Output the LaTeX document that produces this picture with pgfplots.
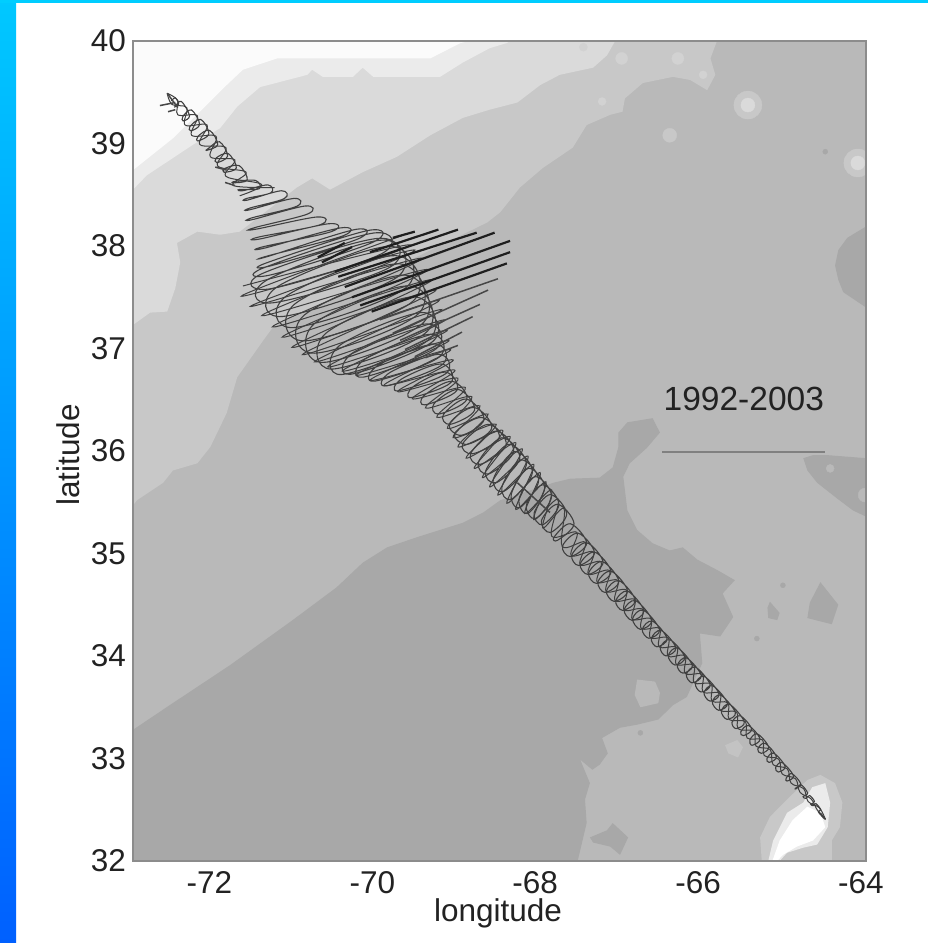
\documentclass[border=0pt]{standalone}
\usepackage{pgfplots}
\pgfplotsset{compat=1.18}
\usepackage{fontspec}
\setmainfont{Liberation Sans}
\definecolor{base}{HTML}{B9B9B9}
\definecolor{cdark}{HTML}{A8A8A8}
\definecolor{cc}{HTML}{C8C8C8}
\definecolor{cd}{HTML}{DADADA}
\definecolor{ce}{HTML}{EBEBEB}
\definecolor{cf}{HTML}{FBFBFB}
\definecolor{cs}{HTML}{D2D2D2}
\definecolor{ink}{HTML}{222222}
\definecolor{bartop}{HTML}{00C8FF}
\definecolor{barbot}{HTML}{0060FF}
\definecolor{strip}{HTML}{00CDFF}
\begin{document}
\begin{tikzpicture}[x=1pt,y=1pt]
\useasboundingbox (0,0) rectangle (928,943);
\fill[white] (0,0) rectangle (928,943);
\shade[top color=bartop,bottom color=barbot] (0,0) rectangle (16,943);
\fill[strip] (0,940) rectangle (928,943);
\begin{axis}[
  scale only axis, width=733pt, height=820pt, at={(133pt,82pt)},
  xmin=-73, xmax=-64, ymin=32, ymax=40,
  axis background/.style={fill=base},
  axis on top,
  axis line style={draw=black!45,line width=1.5pt},
  major tick length=0pt,
  xtick={-72,-70,-68,-66,-64}, xticklabels={-72,-70,-68,-66,-64},
  ytick={32,33,34,35,36,37,38,39,40}, yticklabels={32,33,34,35,36,37,38,39,40},
  tick label style={font=\fontsize{31.5}{36}\selectfont,text=ink,inner sep=0pt},
  xticklabel style={anchor=center,yshift=-22pt,xshift=-5pt},
  yticklabel style={anchor=east,xshift=-7pt},
  xlabel={longitude}, ylabel={latitude},
  label style={font=\fontsize{31.5}{36}\selectfont,text=ink},
  xlabel style={at={(axis description cs:0.498,-0.0635)},anchor=center,inner sep=0pt},
  ylabel style={at={(axis description cs:-0.0887,0.495)},anchor=center,inner sep=0pt},
  clip marker paths=true,
]
% depth shading
\addplot[fill=cc,draw=none] coordinates {(-73,40)(-65.83,40)(-65.91,39.83)(-65.85,39.67)(-65.95,39.52)(-66.16,39.62)(-66.37,39.65)(-66.74,39.59)(-66.96,39.44)(-66.99,39.31)(-67.14,39.28)(-67.43,39.18)(-67.60,38.96)(-67.97,38.76)(-68.25,38.57)(-68.49,38.33)(-68.65,38.23)(-71.28,37.21)(-71.40,37.08)(-71.72,36.72)(-71.85,36.37)(-72.05,36.04)(-72.21,35.88)(-72.51,35.81)(-72.63,35.69)(-72.95,35.52)(-73,35.47)} --cycle;
\addplot[fill=cd,draw=none] coordinates {(-73,40)(-67.08,40)(-67.18,39.86)(-67.35,39.74)(-67.76,39.67)(-68.00,39.57)(-68.28,39.40)(-68.62,39.33)(-68.95,39.25)(-69.35,39.08)(-69.76,38.87)(-70.18,38.72)(-70.58,38.55)(-70.80,38.66)(-70.99,38.57)(-71.69,38.14)(-71.93,38.11)(-72.21,38.14)(-72.46,38.03)(-72.42,37.84)(-72.48,37.59)(-72.58,37.36)(-72.79,37.35)(-73,37.23)} --cycle;
\addplot[fill=ce,draw=none] coordinates {(-73,40)(-68.37,40)(-68.41,39.98)(-68.62,39.93)(-68.95,39.79)(-69.23,39.65)(-70.05,39.65)(-70.18,39.74)(-70.30,39.65)(-70.67,39.65)(-70.80,39.72)(-70.86,39.67)(-71.44,39.55)(-71.72,39.36)(-71.93,39.15)(-72.26,38.99)(-72.83,38.69)(-73,38.55)} --cycle;
\addplot[fill=cf,draw=none] coordinates {(-73,40)(-68.86,40)(-68.98,39.98)(-69.35,39.83)(-71.23,39.83)(-71.65,39.72)(-71.85,39.57)(-72.51,39.05)(-73,38.74)} --cycle;
\addplot[fill=cdark,draw=none] coordinates {(-73,32)(-67.54,32)(-67.43,32.37)(-67.45,32.60)(-67.39,32.76)(-67.51,32.99)(-67.36,32.89)(-67.27,32.94)(-67.17,33.05)(-67.24,33.20)(-67.02,33.30)(-66.81,33.33)(-66.55,33.38)(-66.37,33.52)(-66.20,33.60)(-66.01,33.93)(-66.04,34.22)(-65.79,34.19)(-65.63,34.38)(-65.76,34.61)(-65.61,34.74)(-65.83,34.84)(-66.07,34.94)(-66.25,35.06)(-66.41,35.03)(-66.62,35.10)(-66.81,35.23)(-66.93,35.42)(-66.98,35.75)(-66.90,35.88)(-66.69,36.03)(-66.53,36.18)(-66.62,36.32)(-66.93,36.28)(-67.04,36.18)(-67.04,36.04)(-67.11,35.84)(-67.27,35.74)(-67.63,35.73)(-67.84,35.69)(-68.49,35.52)(-68.70,35.40)(-68.95,35.30)(-69.51,35.16)(-69.88,35.06)(-70.18,34.91)(-70.50,34.67)(-71.04,34.35)(-71.81,33.91)(-72.55,33.52)(-73,33.28)} --cycle;
\addplot[fill=base,draw=none] coordinates {(-66.81,33.77)(-66.59,33.75)(-66.53,33.64)(-66.55,33.54)(-66.77,33.50)(-66.84,33.62)} --cycle;
\addplot[fill=cdark,draw=none] coordinates {(-67.39,32.23)(-67.18,32.30)(-67.11,32.37)(-66.92,32.23)(-67.02,32.06)(-67.14,32.14)(-67.35,32.18)} --cycle;
\addplot[fill=cdark,draw=none] coordinates {(-64,38.19)(-64.23,38.08)(-64.34,37.96)(-64.38,37.81)(-64.34,37.67)(-64.28,37.55)(-64,37.40)} --cycle;
\addplot[fill=cdark,draw=none] coordinates {(-64.77,35.93)(-64.65,35.96)(-64.48,35.96)(-64,35.93)(-64,35.36)(-64.16,35.42)(-64.36,35.54)(-64.60,35.69)(-64.72,35.81)} --cycle;
\addplot[fill=cdark,draw=none] coordinates {(-64.56,34.72)(-64.34,34.50)(-64.42,34.31)(-64.72,34.37)(-64.69,34.52)} --cycle;
\addplot[fill=cdark,draw=none] coordinates {(-65.18,34.53)(-65.06,34.42)(-65.09,34.35)(-65.20,34.37)(-65.21,34.47)} --cycle;
\addplot[fill=cc!70!base,draw=none] coordinates {(-65.73,33.13)(-65.58,33.18)(-65.51,33.11)(-65.57,33.01)(-65.69,33.05)} --cycle;
\addplot[fill=cc,draw=none] coordinates {(-65.28,32)(-65.30,32.23)(-65.18,32.43)(-64.97,32.60)(-64.72,32.79)(-64.56,32.84)(-64.38,32.76)(-64.29,32.57)(-64.32,32.33)(-64.42,32.20)(-64.42,32)} --cycle;
\addplot[fill=ce,draw=none] coordinates {(-65.20,32)(-65.14,32.20)(-64.97,32.47)(-64.77,32.57)(-64.66,32.72)(-64.50,32.76)(-64.44,32.57)(-64.47,32.33)(-64.60,32.16)(-64.77,32.13)(-64.97,32.08)(-65.06,32)} --cycle;
\addplot[fill=white,draw=none] coordinates {(-65.15,32)(-65.06,32.20)(-64.90,32.40)(-64.72,32.53)(-64.56,32.47)(-64.50,32.33)(-64.65,32.20)(-64.85,32.14)(-65.02,32.06)(-65.09,32)} --cycle;
% seamount spots
\addplot[only marks,mark=*,mark size=14pt,color=cc] coordinates {(-65.45,39.375)(-64.10,38.81)};
\addplot[only marks,mark=*,mark size=7pt,color=cd] coordinates {(-65.45,39.375)(-64.10,38.81)};
\addplot[only marks,mark=*,mark size=7pt,color=cc] coordinates {(-66.41,39.08)};
\addplot[only marks,mark=*,mark size=6pt,color=cs] coordinates {(-67.00,39.83)(-66.31,39.83)};
\addplot[only marks,mark=*,mark size=4pt,color=cs] coordinates {(-66.00,39.67)(-67.47,39.94)(-67.24,39.41)};
\addplot[only marks,mark=*,mark size=2.5pt,color=cdark] coordinates {(-65.02,34.69)(-65.34,34.17)(-66.77,33.25)(-64.50,38.92)};
\addplot[only marks,mark=*,mark size=4pt,color=base] coordinates {(-64.44,35.83)};
\addplot[only marks,mark=*,mark size=7pt,color=base] coordinates {(-64.01,35.57)};
% the looping track
\addplot[smooth,tension=0.6,draw=black!75,line width=1.1pt] coordinates {
(-72.53,39.416)(-72.48,39.444)(-72.44,39.384)(-72.49,39.356)
(-72.484,39.36)(-72.406,39.41)(-72.306,39.27)(-72.384,39.22)
(-72.388,39.263)(-72.282,39.327)(-72.182,39.187)(-72.288,39.123)
(-72.302,39.165)(-72.168,39.235)(-72.068,39.095)(-72.202,39.025)
(-72.20,39.072)(-72.06,39.128)(-71.96,38.988)(-72.10,38.932)
(-72.072,38.953)(-71.938,39.017)(-71.838,38.877)(-71.972,38.813)
(-71.979,38.859)(-71.831,38.901)(-71.731,38.761)(-71.879,38.719)
(-71.873,38.756)(-71.697,38.784)(-71.597,38.644)(-71.773,38.616)
(-71.74,38.631)(-71.494,38.639)(-71.45,38.559)(-71.696,38.551)
(-71.645,38.54)(-71.345,38.596)(-71.305,38.52)(-71.605,38.464)
(-71.599,38.447)(-71.179,38.539)(-71.141,38.463)(-71.561,38.371)
(-71.572,38.352)(-71.026,38.464)(-70.988,38.388)(-71.534,38.276)
(-71.54,38.256)(-70.888,38.39)(-70.85,38.314)(-71.502,38.18)
(-71.497,38.163)(-70.741,38.283)(-70.703,38.207)(-71.459,38.087)
(-71.439,38.069)(-70.599,38.217)(-70.561,38.141)(-71.401,37.993)
(-71.381,37.98)(-70.457,38.176)(-70.419,38.10)(-71.343,37.904)
(-71.336,37.90)(-70.278,38.16)(-70.234,38.07)(-71.292,37.81)
(-71.362,37.835)(-70.116,38.151)(-70.058,38.035)(-71.304,37.719)
(-71.408,37.783)(-70.042,38.127)(-69.942,37.927)(-71.308,37.583)
(-71.43,37.725)(-69.98,38.075)(-69.84,37.795)(-71.29,37.445)
(-71.347,37.672)(-69.933,38.058)(-69.753,37.698)(-71.167,37.312)
(-71.225,37.604)(-69.845,37.996)(-69.645,37.596)(-71.025,37.204)
(-71.114,37.514)(-69.776,37.906)(-69.556,37.466)(-70.894,37.074)
(-71.014,37.434)(-69.726,37.826)(-69.486,37.346)(-70.774,36.954)
(-70.90,37.324)(-69.66,37.716)(-69.43,37.256)(-70.67,36.864)
(-70.778,37.239)(-69.602,37.611)(-69.382,37.171)(-70.558,36.799)
(-70.636,37.146)(-69.544,37.504)(-69.344,37.104)(-70.436,36.746)
(-70.464,37.029)(-69.456,37.351)(-69.316,37.071)(-70.324,36.749)
(-70.297,36.96)(-69.393,37.24)(-69.273,37.00)(-70.177,36.72)
(-70.144,36.901)(-69.346,37.139)(-69.236,36.919)(-70.034,36.681)
(-69.992,36.835)(-69.298,37.045)(-69.198,36.845)(-69.892,36.635)
(-69.843,36.767)(-69.247,36.943)(-69.147,36.763)(-69.743,36.587)
(-69.705,36.701)(-69.215,36.849)(-69.095,36.669)(-69.585,36.521)
(-69.556,36.63)(-69.164,36.77)(-69.024,36.59)(-69.416,36.45)
(-69.427,36.54)(-69.083,36.68)(-68.903,36.50)(-69.247,36.36)
(-69.305,36.46)(-69.005,36.60)(-68.805,36.40)(-69.105,36.26)
(-69.19,36.353)(-68.91,36.507)(-68.69,36.307)(-68.97,36.153)
(-69.115,36.265)(-68.815,36.425)(-68.595,36.225)(-68.895,36.065)
(-69.05,36.173)(-68.72,36.327)(-68.50,36.127)(-68.83,35.973)
(-68.953,36.07)(-68.637,36.26)(-68.417,36.06)(-68.733,35.87)
(-68.854,35.976)(-68.546,36.194)(-68.326,35.994)(-68.634,35.776)
(-68.759,35.891)(-68.471,36.129)(-68.251,35.929)(-68.539,35.691)
(-68.67,35.805)(-68.39,36.065)(-68.17,35.865)(-68.45,35.605)
(-68.575,35.727)(-68.315,35.993)(-68.095,35.793)(-68.355,35.527)
(-68.471,35.647)(-68.239,35.913)(-68.019,35.713)(-68.251,35.447)
(-68.355,35.579)(-68.145,35.831)(-67.945,35.641)(-68.155,35.389)
(-68.26,35.53)(-68.06,35.75)(-67.86,35.56)(-68.06,35.34)
(-68.17,35.47)(-67.97,35.67)(-67.77,35.48)(-67.97,35.28)
(-68.075,35.395)(-67.875,35.575)(-67.675,35.385)(-67.875,35.205)
(-67.985,35.32)(-67.785,35.48)(-67.585,35.29)(-67.785,35.13)
(-67.83,35.16)(-67.63,35.29)(-67.43,35.10)(-67.63,34.97)
(-67.726,35.073)(-67.534,35.198)(-67.334,35.008)(-67.526,34.883)
(-67.612,34.985)(-67.428,35.105)(-67.228,34.915)(-67.412,34.795)
(-67.509,34.898)(-67.331,35.013)(-67.131,34.823)(-67.309,34.708)
(-67.405,34.81)(-67.235,34.92)(-67.035,34.73)(-67.205,34.62)
(-67.291,34.723)(-67.129,34.827)(-66.929,34.637)(-67.091,34.533)
(-67.187,34.635)(-67.033,34.735)(-66.833,34.545)(-66.987,34.445)
(-67.073,34.538)(-66.927,34.632)(-66.727,34.442)(-66.873,34.348)
(-66.97,34.45)(-66.83,34.54)(-66.63,34.35)(-66.77,34.26)
(-66.866,34.363)(-66.734,34.447)(-66.534,34.257)(-66.666,34.173)
(-66.747,34.26)(-66.623,34.34)(-66.443,34.17)(-66.567,34.09)
(-66.636,34.171)(-66.514,34.249)(-66.334,34.079)(-66.456,34.001)
(-66.525,34.082)(-66.405,34.158)(-66.225,33.988)(-66.345,33.912)
(-66.428,34.003)(-66.312,34.077)(-66.132,33.907)(-66.248,33.833)
(-66.317,33.909)(-66.203,33.981)(-66.023,33.811)(-66.137,33.739)
(-66.206,33.819)(-66.094,33.891)(-65.914,33.721)(-66.026,33.649)
(-66.095,33.73)(-65.985,33.80)(-65.805,33.63)(-65.915,33.56)
(-65.989,33.641)(-65.881,33.709)(-65.701,33.539)(-65.809,33.471)
(-65.887,33.552)(-65.783,33.618)(-65.603,33.448)(-65.707,33.382)
(-65.776,33.462)(-65.674,33.528)(-65.494,33.358)(-65.596,33.292)
(-65.645,33.353)(-65.545,33.417)(-65.405,33.287)(-65.505,33.223)
(-65.538,33.259)(-65.442,33.321)(-65.302,33.191)(-65.398,33.129)
(-65.426,33.18)(-65.334,33.24)(-65.194,33.11)(-65.286,33.05)
(-65.329,33.092)(-65.241,33.148)(-65.101,33.018)(-65.189,32.962)
(-65.217,32.998)(-65.133,33.052)(-64.993,32.922)(-65.077,32.868)
(-65.11,32.91)(-65.03,32.96)(-64.89,32.83)(-64.97,32.78)
(-64.98,32.808)(-64.91,32.852)(-64.80,32.752)(-64.87,32.708)
(-64.853,32.707)(-64.797,32.743)(-64.717,32.663)(-64.773,32.627)
(-64.737,32.611)(-64.693,32.639)(-64.633,32.581)(-64.677,32.551)
(-64.645,32.54)(-64.615,32.56)(-64.555,32.50)(-64.585,32.48)
(-64.52,32.42)(-64.50,32.41)(-64.56,32.47)
};
% edge-to-edge strands of the track
\addplot[smooth,tension=0.6,draw=black!75,line width=1pt] coordinates {
(-72.58,39.49)(-72.52,39.38)(-72.34,39.35)(-72.36,39.18)(-72.09,39.18)(-72.18,38.99)(-71.86,38.96)(-71.96,38.78)(-71.61,38.72)(-71.77,38.59)(-71.26,38.57)
};
\addplot[smooth,tension=0.6,draw=black!75,line width=1pt] coordinates {
(-72.58,39.49)(-72.45,39.42)(-72.45,39.28)(-72.21,39.27)(-72.28,39.08)(-71.98,39.07)(-72.05,38.87)(-71.75,38.84)(-71.86,38.68)(-71.42,38.60)(-71.69,38.49)
};
\addplot[smooth,tension=0.6,draw=black!75,line width=1pt] coordinates {
(-71.65,37.61)(-69.60,38.01)(-71.56,37.41)(-69.45,37.88)(-71.29,37.21)(-69.33,37.67)(-71.05,37.01)(-69.24,37.47)(-70.77,36.87)(-69.17,37.28)(-70.43,36.78)(-69.12,37.08)(-70.09,36.69)(-69.07,36.89)(-69.75,36.58)(-69.01,36.71)(-69.41,36.42)(-68.84,36.53)(-69.14,36.22)(-68.64,36.36)(-69.01,36.04)(-68.46,36.20)(-68.81,35.83)(-68.30,36.08)(-68.62,35.65)(-68.15,35.95)(-68.41,35.49)(-68.00,35.79)(-68.19,35.39)(-67.86,35.62)(-67.97,35.25)(-67.71,35.44)(-67.73,35.07)(-67.449,35.111)(-67.51,34.89)(-67.254,34.919)(-67.30,34.72)(-67.049,34.738)(-67.08,34.54)(-66.839,34.55)(-66.87,34.36)(-66.64,34.362)(-66.65,34.18)(-66.428,34.176)(-66.43,34.00)(-66.223,34.002)(-66.22,33.83)(-66.008,33.818)(-66.00,33.65)(-65.792,33.634)(-65.79,33.47)(-65.587,33.451)(-65.57,33.29)(-65.375,33.265)(-65.35,33.12)(-65.176,33.087)(-65.14,32.94)(-64.966,32.899)(-64.92,32.76)(-64.765,32.705)(-64.71,32.58)(-64.574,32.52)(-64.50,32.41)
};
\addplot[smooth,tension=0.6,draw=black!75,line width=1pt] coordinates {
(-69.70,38.10)(-71.67,37.51)(-69.54,37.96)(-71.42,37.32)(-69.38,37.77)(-71.17,37.11)(-69.28,37.57)(-70.92,36.94)(-69.21,37.38)(-70.61,36.82)(-69.14,37.18)(-70.26,36.74)(-69.10,36.99)(-69.92,36.64)(-69.05,36.79)(-69.57,36.51)(-68.92,36.62)(-69.27,36.33)(-68.74,36.44)(-69.07,36.13)(-68.54,36.26)(-68.91,35.93)(-68.37,36.14)(-68.71,35.74)(-68.22,36.02)(-68.52,35.57)(-68.08,35.87)(-68.30,35.43)(-67.93,35.70)(-68.08,35.33)(-67.78,35.53)(-67.86,35.17)(-67.551,35.207)(-67.62,34.98)(-67.346,35.015)(-67.41,34.80)(-67.151,34.834)(-67.19,34.63)(-66.944,34.644)(-66.97,34.45)(-66.745,34.456)(-66.76,34.27)(-66.535,34.268)(-66.54,34.09)(-66.32,34.084)(-66.33,33.92)(-66.115,33.91)(-66.11,33.74)(-65.90,33.726)(-65.89,33.56)(-65.695,33.543)(-65.68,33.38)(-65.48,33.359)(-65.46,33.20)(-65.27,33.181)(-65.25,33.03)(-65.071,32.993)(-65.03,32.85)(-64.865,32.802)(-64.81,32.67)(-64.675,32.607)(-64.60,32.50)(-64.50,32.41)
};
% dark straight sticks
\addplot[draw=black!88,line width=2.2pt,unbounded coords=jump] table {
x y
-70.09 37.94
-69.25 38.16
nan nan
-69.81 38.08
-69.54 38.14
nan nan
-70.52 37.75
-69.01 38.16
nan nan
-70.48 37.70
-68.78 38.13
nan nan
-70.40 37.60
-68.56 38.13
nan nan
-70.31 37.50
-68.37 38.05
nan nan
-70.21 37.42
-68.37 37.94
nan nan
-70.07 37.36
-68.41 37.83
nan nan
-70.73 37.89
-70.40 38.03
nan nan
-70.68 37.84
-70.31 37.99
};
\addplot[draw=black!72,line width=1.5pt,unbounded coords=jump] table {
x y
-69.97 37.28
-68.52 37.68
nan nan
-69.81 37.15
-68.64 37.57
nan nan
-69.72 37.08
-68.74 37.43
nan nan
-69.66 36.99
-68.83 37.31
nan nan
-69.54 36.92
-68.96 37.16
nan nan
-69.41 36.91
-69.01 37.03
nan nan
-72.67 39.37
-72.48 39.40
nan nan
-72.57 39.31
-72.48 39.33
nan nan
-72.58 39.49
-72.45 39.35
nan nan
-71.99 38.77
-71.85 38.74
nan nan
-71.87 38.62
-71.75 38.59
nan nan
-68.28 35.69
-67.88 35.40
};
% time-span scale line
\addplot[draw=black!50,line width=2.2pt] coordinates {(-66.5,35.99)(-64.5,35.99)};
\node[font=\fontsize{33.5}{38}\selectfont,text=ink] at (axis cs:-65.5,36.51) {1992-2003};
\end{axis}
\end{tikzpicture}
\end{document}
